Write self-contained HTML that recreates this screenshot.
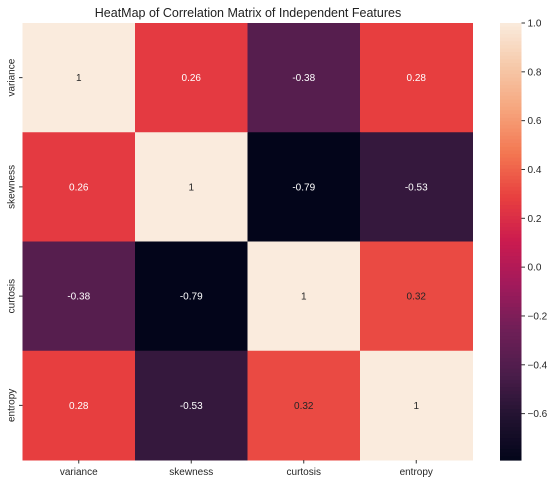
<!DOCTYPE html>
<html><head><meta charset="utf-8"><style>
body{margin:0;background:#fff;}
svg text{font-family:"Liberation Sans","DejaVu Sans",sans-serif;}
</style></head><body>
<svg id="chart" width="558" height="482" xmlns="http://www.w3.org/2000/svg">
<rect width="558" height="482" fill="#fff"/>
<text x="248" y="17" font-size="12.5" text-anchor="middle" fill="#222">HeatMap of Correlation Matrix of Independent Features</text>
<defs><linearGradient id="rocket" x1="0" y1="1" x2="0" y2="0"></linearGradient></defs>
<g id="cells"></g><g id="axes"></g><g id="cbar"></g>
</svg>
<script>
const features = ["variance","skewness","curtosis","entropy"];
const row0 = [1, 0.26, -0.38, 0.28];
const row1 = [0.26, 1, -0.79, -0.53];
const row2 = [-0.38, -0.79, 1, 0.32];
const row3 = [0.28, -0.53, 0.32, 1];
const matrix = [row0,row1,row2,row3];
const cbarTicks = [1.0,0.8,0.6,0.4,0.2,0.0,-0.2,-0.4,-0.6];

const NS="http://www.w3.org/2000/svg";
const L=22.5,T=23,W=450,H=437;
const vmin=Math.min(...matrix.flat()), vmax=Math.max(...matrix.flat());
const stops=[[0,"#03051a"],[0.1,"#221331"],[0.2,"#4c1d4b"],[0.3,"#701f57"],[0.4,"#a11a5b"],[0.5,"#cb1b4f"],[0.6,"#e83f3f"],[0.7,"#f37651"],[0.8,"#f6a47c"],[0.9,"#f6c9a9"],[1,"#faebdd"]];
function hex(h){return [1,3,5].map(i=>parseInt(h.substr(i,2),16));}
function color(v){let t=(v-vmin)/(vmax-vmin);t=Math.max(0,Math.min(1,t));
 for(let i=1;i<stops.length;i++){if(t<=stops[i][0]){const a=stops[i-1],b=stops[i];const f=(t-a[0])/(b[0]-a[0]);const ca=hex(a[1]),cb=hex(b[1]);return "rgb("+ca.map((c,k)=>Math.round(c+(cb[k]-c)*f)).join(",")+")";}}return stops[stops.length-1][1];}
const n=features.length,cw=W/n,ch=H/n;
const xs=i=>L+i*cw, ys=j=>T+j*ch;
function el(tag,attrs,parent){const e=document.createElementNS(NS,tag);for(const k in attrs)e.setAttribute(k,attrs[k]);parent.appendChild(e);return e;}
const cells=document.getElementById("cells"),axes=document.getElementById("axes"),cbar=document.getElementById("cbar");
matrix.forEach((row,j)=>row.forEach((v,i)=>{
 const r=el("rect",{x:xs(i),y:ys(j),width:cw+0.5,height:ch+0.5,fill:color(v)},cells);
 
 
 const t=el("text",{x:xs(i)+cw/2,y:ys(j)+ch/2+3.5,"font-size":"10","text-anchor":"middle",fill:((v-vmin)/(vmax-vmin)>0.6?"#262626":"#fff")},cells);
 t.textContent=String(v);
 
 
}));
features.forEach((f,i)=>{
 const cx=xs(i)+cw/2;
 el("line",{x1:cx,x2:cx,y1:T+H,y2:T+H+3.5,stroke:"#333"},axes);
 const t=el("text",{x:cx,y:T+H+15,"font-size":"10","text-anchor":"middle",fill:"#262626"},axes);
 t.textContent=f;
 
 
 const cy=ys(i)+ch/2;
 el("line",{x1:L-3.5,x2:L,y1:cy,y2:cy,stroke:"#333"},axes);
 const ty=el("text",{x:0,y:0,"font-size":"10","text-anchor":"middle",fill:"#262626",transform:`translate(${L-8},${cy}) rotate(-90)`},axes);
 ty.textContent=f;
 
 
});
// colorbar
const CX=500,CW=21.5;
const cy=v=>T+(vmax-v)/(vmax-vmin)*H;
const N=120;
for(let k=0;k<N;k++){const v=vmax-(vmax-vmin)*k/N;el("rect",{x:CX,y:T+H*k/N,width:CW,height:H/N+0.6,fill:color(v-(vmax-vmin)/(2*N))},cbar);}
cbarTicks.forEach(v=>{
 const y=cy(v);
 el("line",{x1:CX+CW,x2:CX+CW+3.5,y1:y,y2:y,stroke:"#333"},cbar);
 const t=el("text",{x:CX+CW+6,y:y+3.5,"font-size":"10",fill:"#262626"},cbar);
 t.textContent=(v<0?"\u2212"+Math.abs(v).toFixed(1):v.toFixed(1));
 
 
});


</script>
</body></html>
